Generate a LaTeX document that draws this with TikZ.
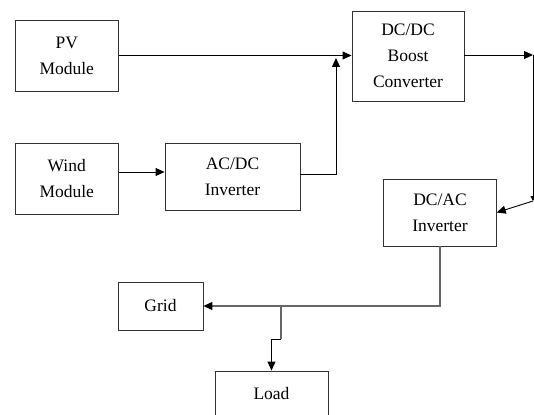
\documentclass[tikz,border=0pt]{standalone}
\usepackage{fontspec}
\setmainfont{Liberation Serif}
\usepackage{xcolor}
\usetikzlibrary{arrows.meta}

\begin{document}
\begin{tikzpicture}[x=1pt,y=-1pt,
  font=\fontsize{17.5}{26}\selectfont,
  block/.style={draw=black!80,line width=0.9pt,align=center,inner sep=0pt},
  arr/.style={draw=black,line width=0.9pt,-{Triangle[length=9pt,width=8pt]}},
  garr/.style={draw=black!60,line width=1.1pt,-{Triangle[length=9pt,width=8pt,color=black]}}]
\useasboundingbox (0,0) rectangle (534,414);
\node[block,minimum width=103.5pt,minimum height=71pt] (pv) at (66.75,55.5) {PV\\Module};
\node[block,minimum width=112pt,minimum height=90pt] (boost) at (408,56) {DC/DC\\Boost\\Converter};
\node[block,minimum width=103.5pt,minimum height=71pt] (wind) at (66.75,178.5) {Wind\\Module};
\node[block,minimum width=135pt,minimum height=67pt] (acdc) at (232.5,176.5) {AC/DC\\Inverter};
\node[block,minimum width=112.5pt,minimum height=67pt] (dcac) at (440,212.5) {DC/AC\\Inverter};
\node[block,minimum width=85pt,minimum height=48pt] (grid) at (160.5,306) {Grid};
\node[block,minimum width=113pt,minimum height=46pt] (load) at (271.5,394) {Load};
\coordinate (j1) at (336,58);
\coordinate (c1) at (533,55);
\coordinate (c2) at (533,201);
\coordinate (j2) at (281,306);
\coordinate (j3) at (281,339);
\draw[arr] (pv.east) -- (pv.east -| boost.west);
\draw[arr] (wind.east |- 0,172) -- (acdc.west |- 0,172);
\draw[arr] (acdc.east |- 0,174) -| (j1);
\draw[arr] (boost.east |- c1) -- (c1);
\draw[arr,-{Triangle[length=5pt,width=5pt]}] (c1) -- (c2);
\draw[arr] (c2) -- (dcac.east);
\draw[garr] (dcac.south) |- (grid.east);
\draw[garr,-] (j2) -- (j3);
\draw[arr] (j3) -| (load.north);
\end{tikzpicture}
\end{document}
